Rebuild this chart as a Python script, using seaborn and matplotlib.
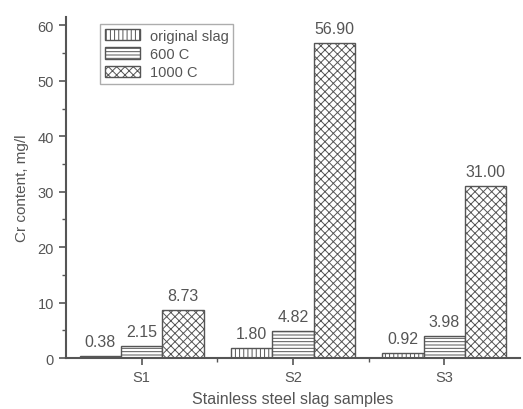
import numpy as np
import pandas as pd
import matplotlib
matplotlib.use('Agg')
import matplotlib.pyplot as plt
import seaborn as sns
from matplotlib.ticker import MultipleLocator, FixedLocator

# Données
echantillons = ['S1', 'S2', 'S3']
series = ['original slag', '600 C', '1000 C']
valeurs_original = [0.38, 1.80, 0.92]
valeurs_600 = [2.15, 4.82, 3.98]
valeurs_1000 = [8.73, 56.90, 31.00]
motifs = ['||||', '-----', 'xxxx']

GRIS = '#555555'

df = pd.DataFrame({
    'echantillon': echantillons * 3,
    'serie': np.repeat(series, 3),
    'valeur': valeurs_original + valeurs_600 + valeurs_1000,
})

sns.set_style('ticks')
plt.rcParams['font.family'] = ['Liberation Sans', 'DejaVu Sans']
plt.rcParams['hatch.color'] = GRIS
plt.rcParams['hatch.linewidth'] = 0.7

fig = plt.figure(figsize=(5.23, 4.10), dpi=100)
ax = fig.add_axes([0.126, 0.124, 0.868, 0.832])

sns.barplot(data=df, x='echantillon', y='valeur', hue='serie',
            hue_order=series, order=echantillons,
            palette=['white'] * 3, edgecolor=GRIS, linewidth=1.0,
            width=0.82, gap=0, ax=ax)

for conteneur, motif in zip(ax.containers, motifs):
    for barre in conteneur:
        barre.set_hatch(motif)
    ax.bar_label(conteneur, fmt='%.2f', padding=5, fontsize=11.5, color=GRIS)

# Légende
leg = ax.legend(loc='upper left', bbox_to_anchor=(0.06, 1.0), frameon=True,
                fancybox=False, fontsize=10.5, handlelength=2.4, handleheight=0.85,
                labelspacing=0.3, borderpad=0.3, handletextpad=0.7)
leg.get_frame().set_edgecolor('#999999')
leg.get_frame().set_linewidth(1.0)
for txt in leg.get_texts():
    txt.set_color(GRIS)
for poignee, motif in zip(leg.legend_handles, motifs):
    poignee.set_hatch(motif)
    poignee.set_edgecolor(GRIS)
    poignee.set_facecolor('white')

ax.set_xlim(-0.5, 2.5)
ax.set_ylim(0, 61.5)
ax.yaxis.set_major_locator(MultipleLocator(10))
ax.yaxis.set_minor_locator(MultipleLocator(5))
ax.xaxis.set_minor_locator(FixedLocator([0.5, 1.5]))

sns.despine(ax=ax)
for cote in ['left', 'bottom']:
    ax.spines[cote].set_color(GRIS)
    ax.spines[cote].set_linewidth(1.5)

ax.tick_params(axis='both', which='major', direction='out', length=5, width=1.2,
               color=GRIS, labelcolor=GRIS, labelsize=10.5)
ax.tick_params(axis='both', which='minor', direction='out', length=3, width=1.0,
               color=GRIS)

ax.set_xlabel('Stainless steel slag samples', fontsize=11.5, color=GRIS, labelpad=5)
ax.set_ylabel('Cr content, mg/l', fontsize=11, color=GRIS, labelpad=6)

fig.savefig('out.png', dpi=100, facecolor='white')
